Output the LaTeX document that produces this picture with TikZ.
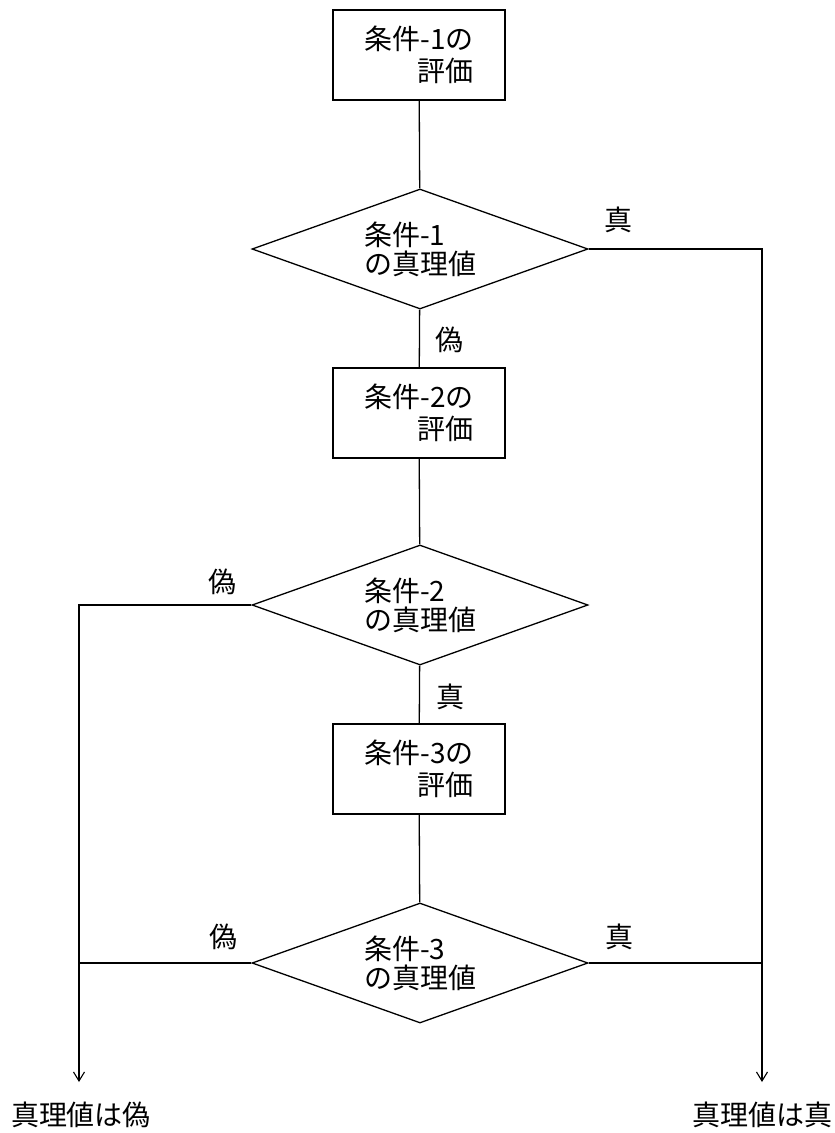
\documentclass[tikz,border=0pt]{standalone}
\usepackage{fontspec}
\setmainfont{Noto Sans CJK JP}
\usepackage{tikz}
\usetikzlibrary{arrows.meta, positioning, shapes.geometric}

\begin{document}
\begin{tikzpicture}[x=1pt, y=-1pt, line width=1.3pt,
    evalbox/.style={draw, rectangle, minimum width=172pt, minimum height=90pt, align=right, inner sep=0pt, font=\fontsize{28}{32}\selectfont},
    condbox/.style={draw, diamond, aspect=2.8, minimum width=336pt, minimum height=120pt, align=left, inner sep=0pt, font=\fontsize{28}{29}\selectfont},
    tag/.style={font=\fontsize{28}{30}\selectfont, inner sep=0pt},
    flow/.style={-{Straight Barb[length=9pt, width=11pt, line width=1.1pt]}}]
          \useasboundingbox (0,0) rectangle (835,1133);
          % Evaluation and truth value of each condition
          \node[evalbox] (eval1) at (419,55) {条件-1の\\評価};
          \node[condbox] (cond1) at (420,249) {条件-1\\の真理値};
          \node[evalbox] (eval2) at (419,413) {条件-2の\\評価};
          \node[condbox] (cond2) at (420,605) {条件-2\\の真理値};
          \node[evalbox] (eval3) at (419,769) {条件-3の\\評価};
          \node[condbox] (cond3) at (420,963) {条件-3\\の真理値};
          % Results
          \coordinate (tipF) at (79,1082);
          \coordinate (tipT) at (762,1082);
          \node[tag] (resF) at (81,1115) {真理値は偽};
          \node[tag] (resT) at (762,1115) {真理値は真};
          \draw (eval1) -- (cond1);
          \draw (cond1) -- (eval2);
          \draw (eval2) -- (cond2);
          \draw (cond2) -- (eval3);
          \draw (eval3) -- (cond3);
          \draw[flow] (cond1.east) -| (tipT);
          \draw (cond3.east) -- (cond3.east -| tipT);
          \draw[flow] (cond2.west) -| (tipF);
          \draw (cond3.west) -- (cond3.west -| tipF);
          % Branch labels
          \node[tag] (t1) at (618,220) {真};
          \node[tag] (f1) at (449,340) {偽};
          \node[tag] (f2) at (222,582) {偽};
          \node[tag] (t2) at (450,697) {真};
          \node[tag] (f3) at (223,937) {偽};
          \node[tag] (t3) at (619,937) {真};
        \end{tikzpicture}
\end{document}
